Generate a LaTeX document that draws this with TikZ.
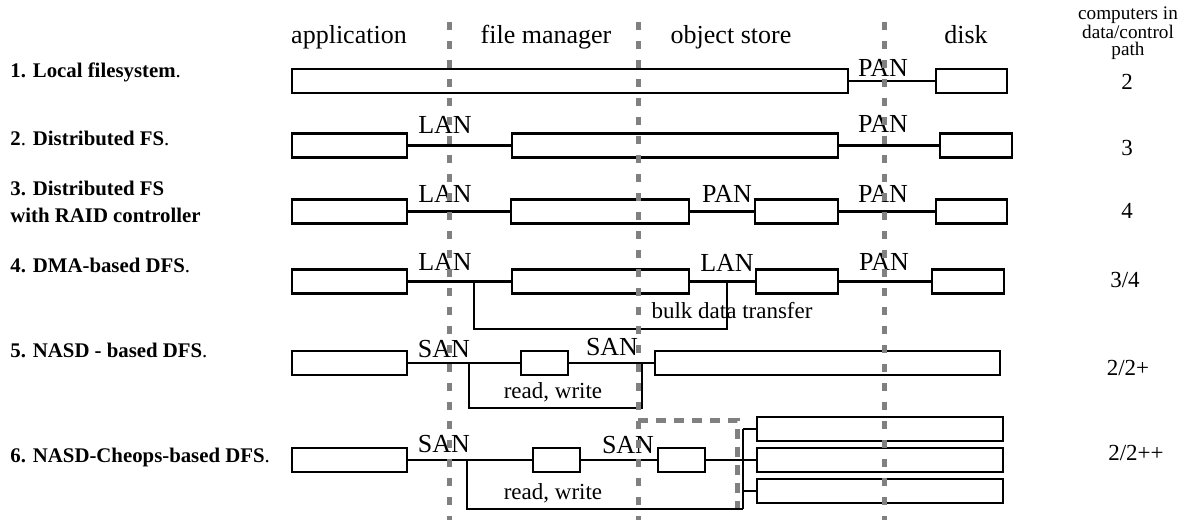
\documentclass[tikz,border=0pt]{standalone}
\usepackage{fontspec}
\setmainfont{Liberation Serif}
\usetikzlibrary{positioning}

\begin{document}
\begin{tikzpicture}[
        x=0.5pt, y=-0.5pt,
        blk/.style={
            rectangle,
            draw=black,
            line width=1.1pt,
            inner sep=0pt,
            outer sep=0pt,
            minimum height=12pt,
            anchor=west
        },
        wire/.style={line width=1.1pt},
        net/.style={inner sep=0pt, anchor=base, font=\fontsize{13}{15}\selectfont},
        hdr/.style={inner sep=0pt, anchor=base, font=\fontsize{13}{15}\selectfont},
        note/.style={inner sep=0pt, anchor=base, font=\fontsize{11.5}{14}\selectfont},
        arch/.style={inner sep=0pt, anchor=base west, font=\fontsize{10.4}{13}\selectfont},
        tier/.style={draw=gray, line width=2.5pt, dash pattern=on 4pt off 5.5pt},
        grp/.style={draw=gray, line width=2.5pt, dash pattern=on 5pt off 4pt}
        ]

        \useasboundingbox (0,0) rectangle (1178,520);

        % column heads
        \node (happ) [hdr] at (349,43) {application};
        \node (hfm) [hdr] at (546,43) {file manager};
        \node (hos) [hdr] at (731,43) {object store};
        \node (hdisk) [hdr] at (966,43) {disk};
        \node (hcnt) [anchor=north, inner sep=0pt, align=center,
            font=\fontsize{9.6}{8.4}\selectfont] at (1128,6) {computers in\\data/control\\path};

        % 1
        \node (r1) [arch] at (10,77) {\textbf{1. Local filesystem}.};
        \node (a1) [blk, minimum width=278pt] at (292,81) {};
        \node (d1) [blk, minimum width=35.5pt] at (936,81) {};
        \draw [wire] (a1) -- (d1);
        \node (p1) [net] at (883,76) {PAN};
        \node (n1) [note] at (1127,89) {2};

        % 2
        \node (r2) [arch] at (10,145) {\textbf{2}. \textbf{Distributed FS}.};
        \node (a2) [blk, minimum width=57.5pt] at (292,145.5) {};
        \node (f2) [blk, minimum width=163pt] at (512,145.5) {};
        \node (d2) [blk, minimum width=36pt] at (940,145.5) {};
        \draw [wire] (a2) -- (f2);
        \draw [wire] (f2) -- (d2);
        \node (l2) [net] at (445,133) {LAN};
        \node (p2) [net] at (883,132) {PAN};
        \node (n2) [note] at (1127,155) {3};

        % 3
        \node (r3) [arch] at (10,195) {\textbf{3. Distributed FS}};
        \node (r3b) [arch] at (10,222) {\textbf{with RAID controller}};
        \node (a3) [blk, minimum width=57.5pt] at (292,211.5) {};
        \node (f3) [blk, minimum width=89pt] at (511,211.5) {};
        \node (o3) [blk, minimum width=41.5pt] at (755,211.5) {};
        \node (d3) [blk, minimum width=35.5pt] at (936,211.5) {};
        \draw [wire] (a3) -- (f3);
        \draw [wire] (f3) -- (o3);
        \draw [wire] (o3) -- (d3);
        \node (l3) [net] at (445,202) {LAN};
        \node (p3) [net] at (727,202) {PAN};
        \node (p3b) [net] at (883,202) {PAN};
        \node (n3) [note] at (1127,218) {4};

        % 4
        \node (r4) [arch] at (10,272) {\textbf{4. DMA-based DFS}.};
        \node (a4) [blk, minimum width=57.5pt] at (292,281.5) {};
        \node (f4) [blk, minimum width=88.5pt] at (512,281.5) {};
        \node (o4) [blk, minimum width=41pt] at (756,281.5) {};
        \node (d4) [blk, minimum width=36pt] at (932,281.5) {};
        \draw [wire] (a4) -- (f4);
        \draw [wire] (f4) -- (o4);
        \draw [wire] (o4) -- (d4);
        \coordinate (t4) at (474,281.5);
        \coordinate (u4) at (727,281.5);
        \draw [wire] (t4) -- ++(0,47.5) -| (u4);
        \node (l4) [net] at (445,270) {LAN};
        \node (l4b) [net] at (727,271) {LAN};
        \node (p4) [net] at (884,270) {PAN};
        \node (bulk) [note] at (732,318) {bulk data transfer};
        \node (n4) [note] at (1125,287) {3/4};

        % 5
        \node (r5) [arch] at (10,357) {\textbf{5. NASD - based DFS}.};
        \node (a5) [blk, minimum width=57.5pt] at (292,363) {};
        \node (f5) [blk, minimum width=23.5pt] at (521,363) {};
        \node (o5) [blk, minimum width=172.5pt] at (655,363) {};
        \draw [wire] (a5) -- (f5);
        \draw [wire] (f5) -- (o5);
        \coordinate (t5) at (469,363);
        \coordinate (u5) at (642,363);
        \draw [wire] (t5) -- ++(0,45) -| (u5);
        \node (s5) [net] at (444,357) {SAN};
        \node (s5b) [net] at (612,355) {SAN};
        \node (rw5) [note] at (553,398) {read, write};
        \node (n5) [note] at (1128,375) {2/2+};

        % 6
        \node (r6) [arch] at (10,462) {\textbf{6. NASD-Cheops-based DFS}.};
        \draw [grp] (638,420) -- (737,420) -- (737,508);
        \node (a6) [blk, minimum width=57.5pt] at (292,460) {};
        \node (f6) [blk, minimum width=23.5pt] at (533,460) {};
        \node (c6) [blk, minimum width=23.5pt] at (658,460) {};
        \node (e1) [blk, minimum width=123pt] at (757,429) {};
        \node (e2) [blk, minimum width=123pt] at (757,460) {};
        \node (e3) [blk, minimum width=123pt] at (757,491) {};
        \coordinate (bt) at (743,429);
        \coordinate (bb) at (743,509);
        \coordinate (t6) at (467,460);
        \draw [wire] (a6) -- (f6);
        \draw [wire] (f6) -- (c6);
        \draw [wire] (c6) -- (c6 -| bt);
        \draw [wire] (bt) -- (bb);
        \draw [wire] (bt) -- (e1);
        \draw [wire] (bt |- e2) -- (e2);
        \draw [wire] (bt |- e3) -- (e3);
        \draw [wire] (t6) -- (t6 |- bb) -- (bb);
        \node (s6) [net] at (444,452) {SAN};
        \node (s6b) [net] at (628,453) {SAN};
        \node (rw6) [note] at (553,499) {read, write};
        \node (n6) [note] at (1136,460) {2/2++};

        % tier borders
        \foreach \x in {449,638,884}
            \draw [tier] (\x,22) -- (\x,520);

    \end{tikzpicture}
\end{document}
